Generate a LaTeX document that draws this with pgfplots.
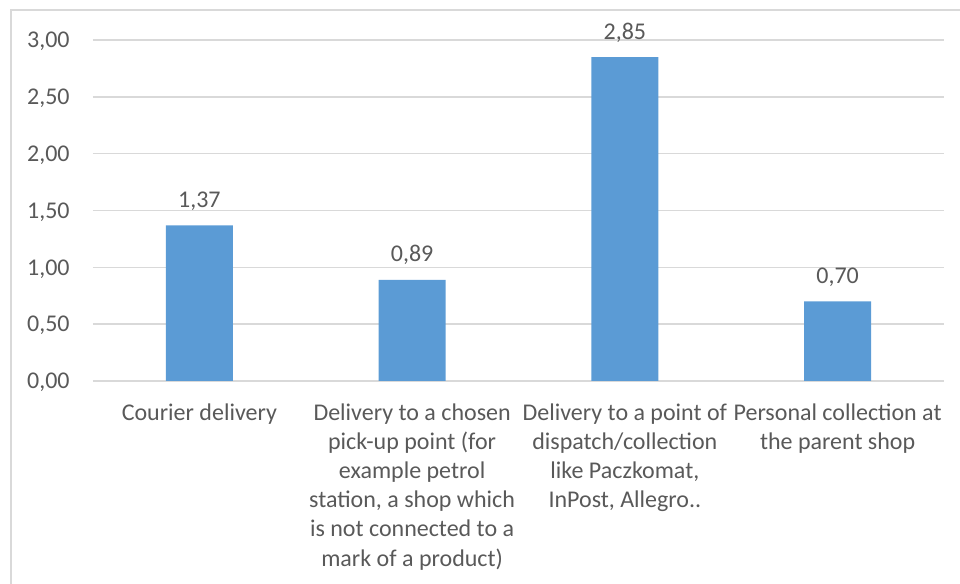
\documentclass[border=0pt]{standalone}
\usepackage{pgfplots}
\pgfplotsset{compat=1.18}
\usepackage{fontspec}
\setmainfont{Carlito}
\definecolor{barblue}{HTML}{5B9BD5}
\definecolor{txtgray}{HTML}{595959}
\definecolor{gridgray}{HTML}{D9D9D9}

\begin{document}
\begin{tikzpicture}
% canvas: 1 px = 0.5 pt
\useasboundingbox (0,0) rectangle (480pt,292pt);
% chart frame
\draw[gridgray, line width=1pt] (5.25pt,-10pt) rectangle (500pt,286.75pt);
\begin{axis}[
  at={(46.5pt,101.5pt)}, anchor=south west,
  width=425.5pt, height=170.5pt, scale only axis,
  xmin=-0.5, xmax=3.5, ymin=0, ymax=3,
  axis lines*=left,
  x axis line style={gridgray, line width=1pt, -},
  y axis line style={draw=none},
  ymajorgrids, grid style={gridgray, line width=0.8pt},
  ytick={0,0.5,1,1.5,2,2.5,3},
  xtick={0,1,2,3},
  major tick length=0pt,
  xticklabels={
    {Courier delivery},
    {Delivery to a chosen\\pick-up point (for\\example petrol\\station, a shop which\\is not connected to a\\mark of a product)},
    {Delivery to a point of\\dispatch/collection\\like Paczkomat,\\InPost, Allegro..},
    {Personal collection at\\the parent shop}},
  /pgf/number format/.cd, fixed, fixed zerofill, precision=2, use comma, assume math mode=true,
  /pgfplots/.cd,
  yticklabel style={font=\fontsize{12}{14.5}\selectfont, text=txtgray, anchor=base east, inner sep=0pt, xshift=-11.5pt, yshift=-3.9pt},
  xticklabel style={font=\fontsize{12}{14.6}\selectfont, text=txtgray, align=center, anchor=north, inner sep=0pt, yshift=-11pt},
  yticklabel={\pgfmathprintnumber{\tick}},
]
\addplot[ybar, bar width=33.5pt, fill=barblue, draw=none,
  nodes near coords={\pgfmathprintnumber[fixed,fixed zerofill,precision=2,use comma,assume math mode=true]{\pgfplotspointmeta}},
  every node near coord/.append style={font=\fontsize{12}{14.5}\selectfont, text=txtgray, anchor=base, inner sep=0pt, yshift=9pt},
] coordinates {(0,1.37) (1,0.89) (2,2.85) (3,0.70)};
\end{axis}
\end{tikzpicture}
\end{document}
